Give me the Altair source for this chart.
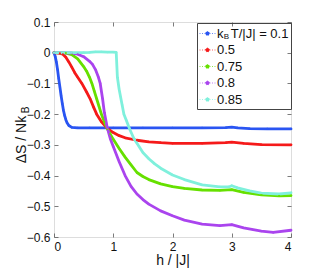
import altair as alt
import pandas as pd

series_names = ["k\u00a0\u00a0T/|J| = 0.1", "0.5", "0.75", "0.8", "0.85"]
series_colors = ["#2a55f2", "#f51a1a", "#66e000", "#aa44ee", "#7ff0dc"]

h_01 = [0, 0.02, 0.04, 0.06, 0.08, 0.10, 0.12, 0.14, 0.16, 0.18, 0.20, 0.22, 0.25, 0.30, 0.40, 0.6, 1.0, 1.5, 2.0, 2.5, 2.9, 3.0, 3.1, 3.3, 3.6, 4.0]
s_01 = [0, -0.012, -0.03, -0.055, -0.085, -0.112, -0.14, -0.165, -0.188, -0.205, -0.218, -0.228, -0.237, -0.243, -0.245, -0.245, -0.245, -0.245, -0.245, -0.245, -0.244, -0.242, -0.245, -0.247, -0.248, -0.248]

h_05 = [0, 0.1, 0.15, 0.2, 0.25, 0.3, 0.35, 0.4, 0.47, 0.55, 0.61, 0.67, 0.72, 0.8, 0.9, 1.0, 1.1, 1.2, 1.4, 1.6, 1.8, 2.0, 2.5, 2.9, 3.0, 3.2, 3.5, 4.0]
s_05 = [0, -0.002, -0.005, -0.015, -0.03, -0.047, -0.065, -0.08, -0.1, -0.128, -0.15, -0.178, -0.2, -0.225, -0.246, -0.26, -0.27, -0.277, -0.285, -0.29, -0.293, -0.295, -0.295, -0.293, -0.291, -0.295, -0.299, -0.3]

h_075 = [0, 0.2, 0.3, 0.4, 0.5, 0.55, 0.6, 0.64, 0.68, 0.72, 0.76, 0.8, 0.85, 0.9, 0.95, 1.0, 1.1, 1.2, 1.3, 1.4, 1.5, 1.6, 1.8, 2.0, 2.2, 2.5, 2.8, 3.0, 3.2, 3.5, 3.8, 4.0]
s_075 = [0, -0.001, -0.006, -0.02, -0.045, -0.06, -0.08, -0.1, -0.125, -0.15, -0.175, -0.2, -0.225, -0.248, -0.265, -0.282, -0.312, -0.34, -0.365, -0.39, -0.403, -0.413, -0.427, -0.436, -0.442, -0.447, -0.448, -0.446, -0.455, -0.463, -0.466, -0.465]

h_08 = [0, 0.3, 0.4, 0.5, 0.6, 0.65, 0.7, 0.75, 0.78, 0.82, 0.85, 0.9, 0.95, 1.0, 1.1, 1.2, 1.3, 1.4, 1.5, 1.6, 1.8, 2.0, 2.2, 2.5, 2.8, 3.0, 3.2, 3.5, 3.7, 4.0]
s_08 = [0, -0.001, -0.005, -0.013, -0.028, -0.038, -0.055, -0.08, -0.1, -0.15, -0.195, -0.245, -0.28, -0.305, -0.355, -0.4, -0.435, -0.46, -0.478, -0.493, -0.515, -0.531, -0.545, -0.558, -0.563, -0.56, -0.57, -0.581, -0.585, -0.578]

h_085 = [0, 0.3, 0.5, 0.6, 0.7, 0.8, 0.9, 1.0, 1.05, 1.07, 1.1, 1.15, 1.18, 1.22, 1.28, 1.35, 1.4, 1.5, 1.6, 1.7, 1.8, 2.0, 2.2, 2.5, 2.8, 2.95, 3.0, 3.1, 3.3, 3.5, 3.8, 4.0]
s_085 = [0, 0, 0.0005, 0.001, 0.003, 0.003, 0.002, 0.002, 0.001, -0.08, -0.12, -0.17, -0.2, -0.22, -0.25, -0.28, -0.295, -0.325, -0.345, -0.362, -0.376, -0.398, -0.413, -0.43, -0.437, -0.437, -0.433, -0.44, -0.45, -0.457, -0.46, -0.456]

y_ticks = [0.1, 0, -0.1, -0.2, -0.3, -0.4, -0.5, -0.6]
x_ticks = [0, 1, 2, 3, 4]

rows = []
for name, hs, ss in zip(series_names, [h_01, h_05, h_075, h_08, h_085], [s_01, s_05, s_075, s_08, s_085]):
    for i, (h, s) in enumerate(zip(hs, ss)):
        rows.append({"series": name, "h": h, "s": s, "i": i})
df = pd.DataFrame(rows)

W, H = 237, 215
FONT = "Liberation Sans"

legend = alt.Legend(title=None, orient="none", legendX=143, legendY=1,
                    symbolType="M-1,0L-0.25,0M0.25,0L1,0M-0.25,0A0.25,0.25,0,1,1,0.25,0A0.25,0.25,0,1,1,-0.25,0Z",
                    symbolSize=256, symbolOffset=0, symbolStrokeWidth=0.7, symbolDash=[1, 1.5],
                    labelOffset=1, labelFontSize=13, labelFont=FONT,
                    labelColor="#111", padding=2, rowPadding=0.5,
                    strokeColor="#444", cornerRadius=0, labelLimit=200)
color_scale = alt.Scale(domain=series_names, range=series_colors)

xenc = alt.X("h:Q", scale=alt.Scale(domain=[0, 4], nice=False, zero=False),
             axis=alt.Axis(values=x_ticks, format="d", title="h / |J|", grid=True,
                           gridDash=[4, H - 8], gridColor="#444", gridWidth=0.7,
                           ticks=False, domain=False, labelPadding=4, labelFontSize=12,
                           labelOverlap=False,
                           titleFontSize=14, titleFontWeight="normal", titlePadding=1,
                           labelColor="#111", titleColor="#111"))
yenc = alt.Y("s:Q", scale=alt.Scale(domain=[-0.6, 0.1], nice=False, zero=False),
             axis=alt.Axis(values=y_ticks, format=".1~f", title="\u0394S / Nk", grid=True,
                           gridDash=[4, W - 8], gridColor="#444", gridWidth=0.7,
                           ticks=False, domain=False, labelPadding=4, labelFontSize=12,
                           labelOverlap=False, labelFlush=False,
                           titleFontSize=14, titleFontWeight="normal",
                           titleX=-29, titleY=117, titleAngle=270, titleBaseline="alphabetic",
                           titleAlign="center", labelColor="#111", titleColor="#111"))
cenc = alt.Color("series:N", scale=color_scale, legend=legend)

lines = alt.Chart(df).mark_line(strokeWidth=2.8, strokeCap="round", strokeJoin="round").encode(
    x=xenc, y=yenc, color=cenc, order="i:Q",
)

pts = alt.Chart(df).mark_point(filled=True, size=5, opacity=1).encode(
    x=xenc, y=yenc, color=cenc,
)

sub_df = pd.DataFrame({"t": ["B"]})
sub_title = alt.Chart(sub_df).mark_text(angle=270, fontSize=10, font=FONT, baseline="alphabetic",
                                        align="center", color="#111").encode(
    x=alt.value(-25), y=alt.value(88), text="t:N")
sub_legend = alt.Chart(sub_df).mark_text(fontSize=8, font=FONT, baseline="alphabetic",
                                         align="center", color="#111").encode(
    x=alt.value(172.5), y=alt.value(16.5), text="t:N")

chart = alt.layer(lines, pts, sub_title, sub_legend).properties(
    width=W, height=H,
    autosize=alt.AutoSizeParams(type="none"),
    padding={"left": 46, "top": 14, "right": 17, "bottom": 31},
).configure_view(stroke="#333", strokeWidth=1).configure(font=FONT)

chart.save("out.html", embed_options={"renderer": "svg", "actions": False})
